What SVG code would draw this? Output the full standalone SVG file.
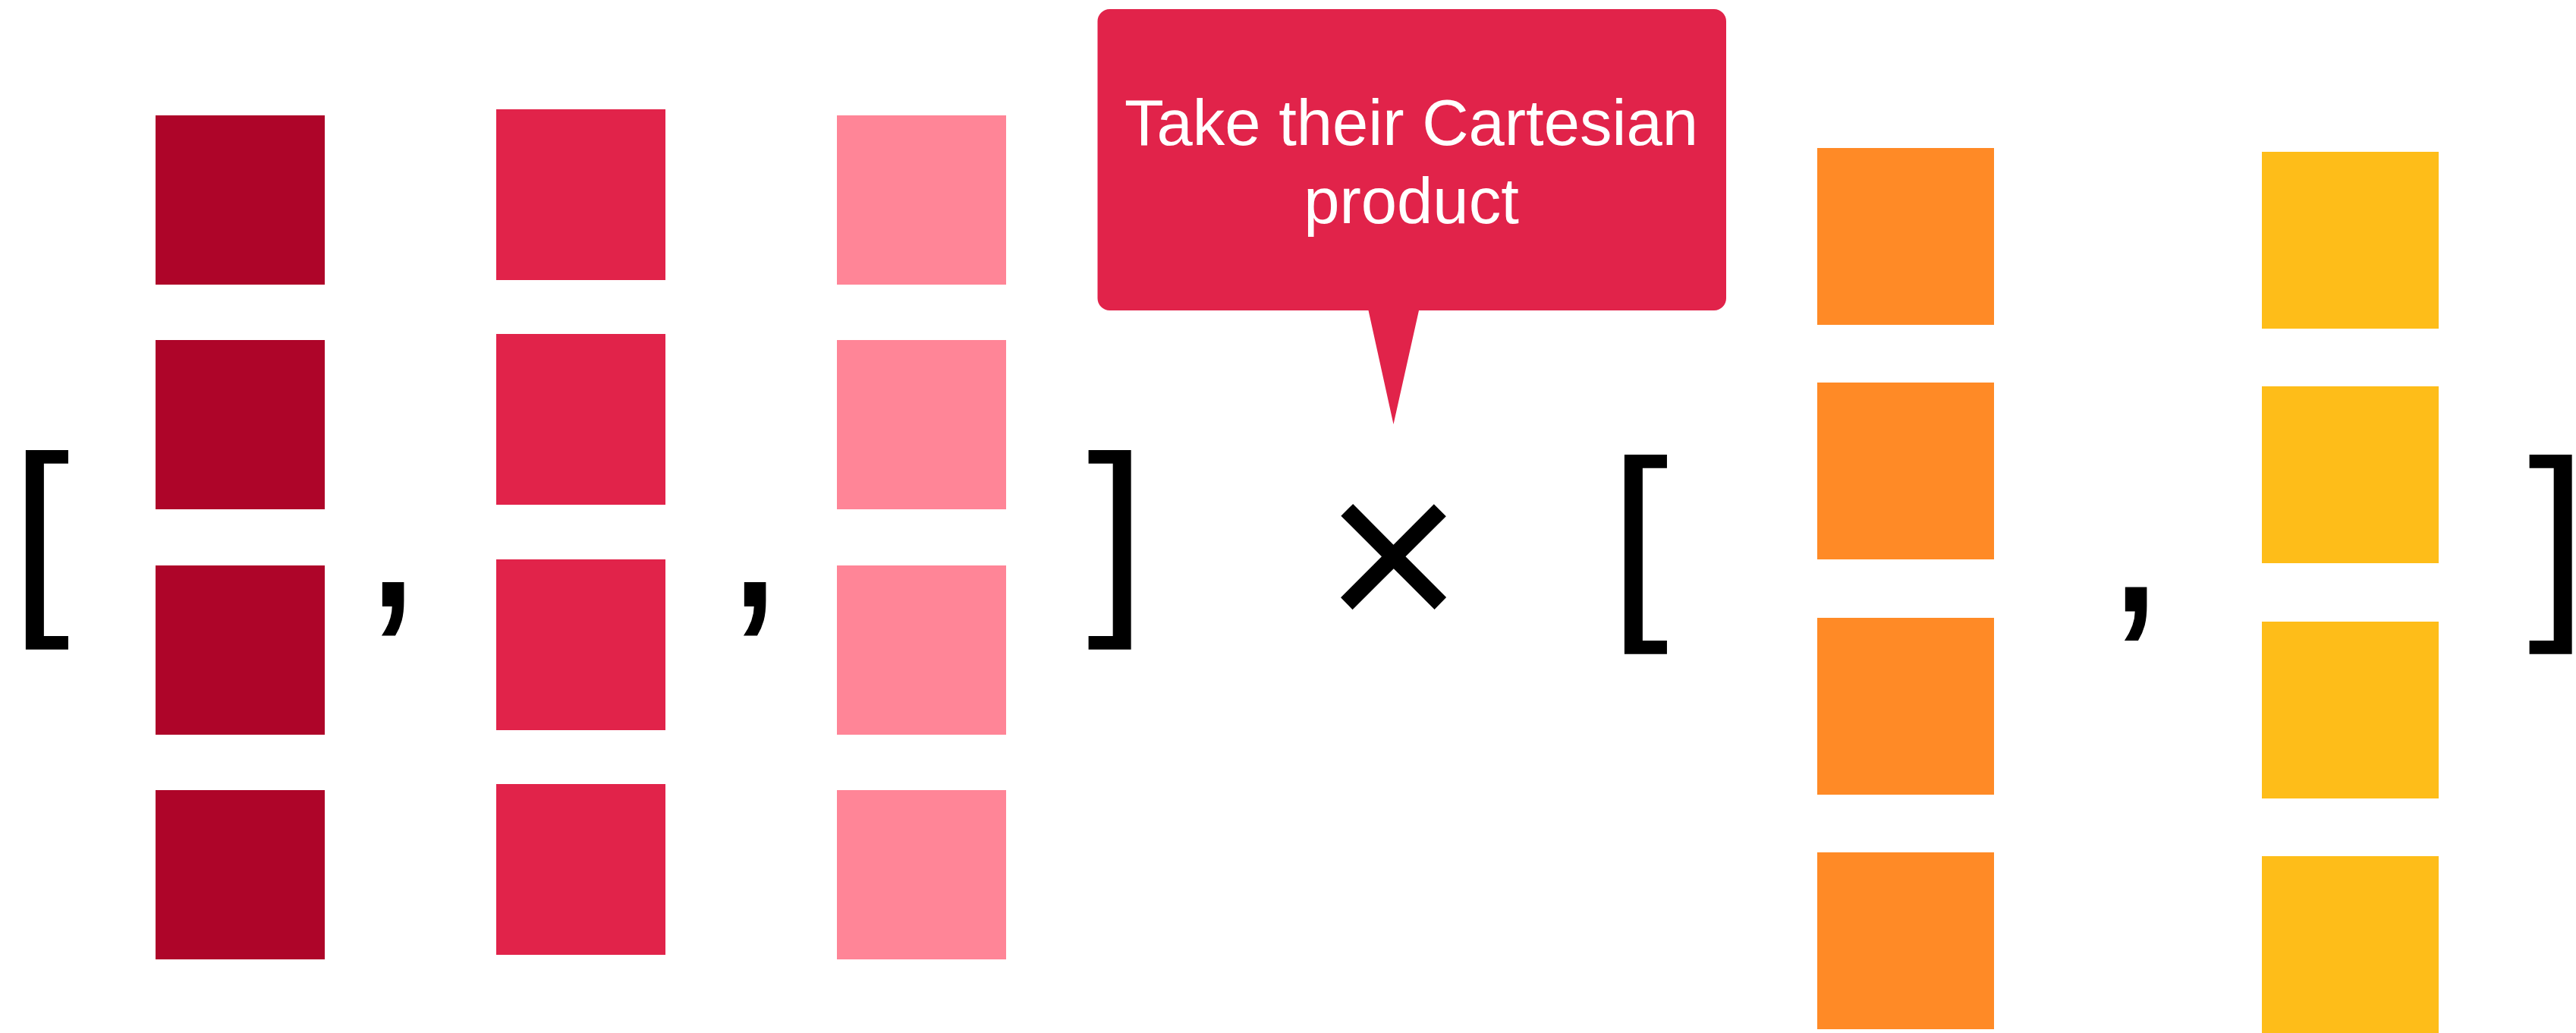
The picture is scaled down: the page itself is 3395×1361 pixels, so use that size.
<svg xmlns="http://www.w3.org/2000/svg" width="3395" height="1361" viewBox="0 0 3395 1361">
  <style>
    .glyph { font-family: "Liberation Sans", Arial, sans-serif; fill: #000000; }
    .bracket { font-size: 282px; }
    .comma { font-size: 300px; }
    .times { font-size: 312px; }
    .label { font-family: "Liberation Sans", Arial, sans-serif; font-size: 85px; fill: #ffffff; text-anchor: middle; }
    .c1 { fill: #AE0529; }
    .c2 { fill: #E1234A; }
    .c3 { fill: #FF8597; }
    .c4 { fill: #FF8A26; }
    .c5 { fill: #FEBD19; }
  </style>
  <rect x="0" y="0" width="3395" height="1361" fill="#ffffff"/>

  <!-- first list: three columns of four squares -->
  <g id="list-a">
    <text class="glyph bracket" x="13.8" y="797.3">[</text>
    <g id="col-a1" class="c1">
      <rect x="205" y="152" width="223" height="223"/>
      <rect x="205" y="448" width="223" height="223"/>
      <rect x="205" y="745" width="223" height="223"/>
      <rect x="205" y="1041" width="223" height="223"/>
    </g>
    <text class="glyph comma" x="476" y="799">,</text>
    <g id="col-a2" class="c2">
      <rect x="654" y="144" width="223" height="225"/>
      <rect x="654" y="440" width="223" height="225"/>
      <rect x="654" y="737" width="223" height="225"/>
      <rect x="654" y="1033" width="223" height="225"/>
    </g>
    <text class="glyph comma" x="953" y="799">,</text>
    <g id="col-a3" class="c3">
      <rect x="1103" y="152" width="223" height="223"/>
      <rect x="1103" y="448" width="223" height="223"/>
      <rect x="1103" y="745" width="223" height="223"/>
      <rect x="1103" y="1041" width="223" height="223"/>
    </g>
    <text class="glyph bracket" x="1432.4" y="797.3">]</text>
  </g>

  <!-- product operator -->
  <g id="operator">
    <text class="glyph times" x="1836.5" y="837.5" text-anchor="middle">×</text>
  </g>

  <!-- callout -->
  <g id="callout">
    <path class="c2" d="M1462.5,12 H2259 A16,16 0 0 1 2275,28 V393 A16,16 0 0 1 2259,409 H1870 L1836.5,559 L1803.5,409 H1462.5 A16,16 0 0 1 1446.5,393 V28 A16,16 0 0 1 1462.5,12 Z"/>
    <text class="label" x="1860" y="191">Take their Cartesian</text>
    <text class="label" x="1860" y="293.5">product</text>
  </g>

  <!-- second list: two columns of four squares -->
  <g id="list-b">
    <text class="glyph bracket" x="2120.8" y="803.3">[</text>
    <g id="col-b1" class="c4">
      <rect x="2395" y="195" width="233" height="233"/>
      <rect x="2395" y="504" width="233" height="233"/>
      <rect x="2395" y="814" width="233" height="233"/>
      <rect x="2395" y="1123" width="233" height="233"/>
    </g>
    <text class="glyph comma" x="2773" y="805.5">,</text>
    <g id="col-b2" class="c5">
      <rect x="2981" y="200" width="233" height="233"/>
      <rect x="2981" y="509" width="233" height="233"/>
      <rect x="2981" y="819" width="233" height="233"/>
      <rect x="2981" y="1128" width="233" height="233"/>
    </g>
    <!-- tight advance so the closing bracket stays inside the right edge -->
    <text class="glyph bracket" x="3331.4" y="803.3" letter-spacing="-22">]</text>
  </g>
</svg>
